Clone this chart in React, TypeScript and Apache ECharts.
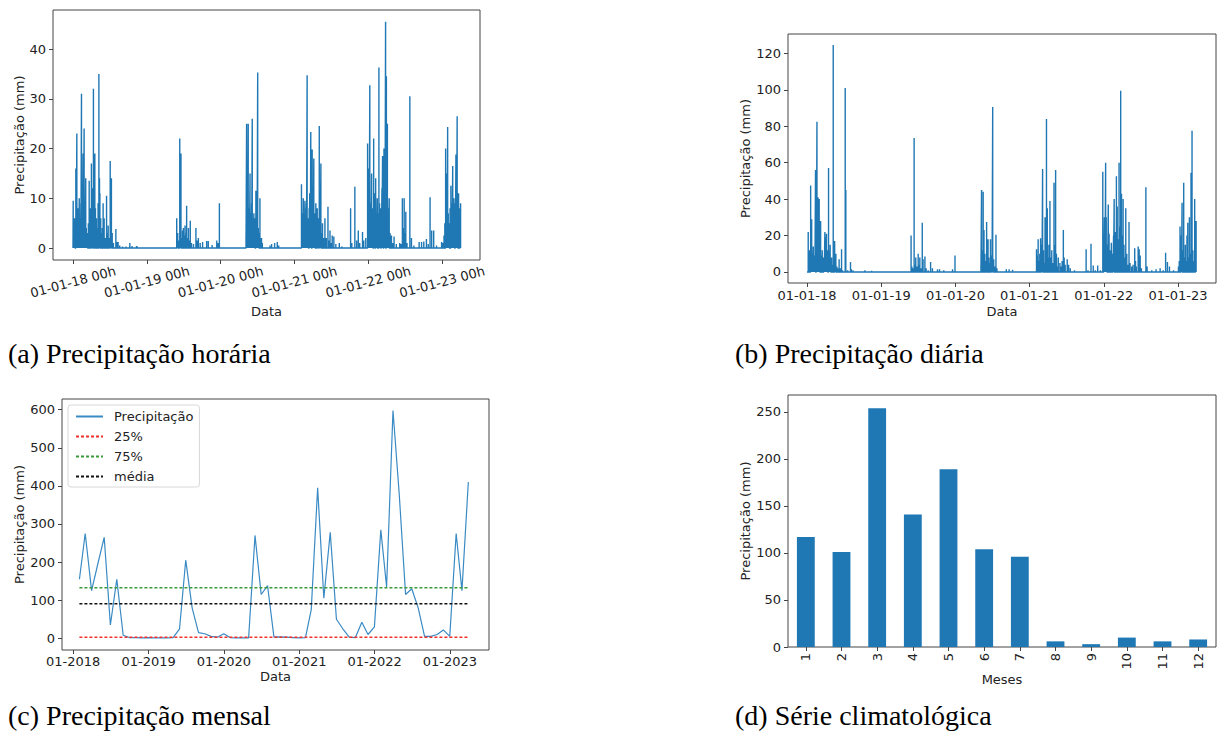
import React, { useEffect, useRef } from "react";
import * as echarts from "echarts";

// ---- data ----------------------------------------------------------------
const yearTicks = [2018, 2019, 2020, 2021, 2022, 2023];

// hourly rainfall readings (mm) — rainy hours only, the rest of the record is 0
const hourlyRain: [string, number][] = [
  ["2018-01-02", 9.5], ["2018-01-05", 4], ["2018-01-08", 6], ["2018-01-11", 3], ["2018-01-15", 16],
  ["2018-01-17", 7], ["2018-01-20", 23], ["2018-01-23", 5], ["2018-01-26", 8], ["2018-01-29", 3],
  ["2018-02-01", 10], ["2018-02-04", 6], ["2018-02-07", 4], ["2018-02-09", 9], ["2018-02-12", 31],
  ["2018-02-15", 12], ["2018-02-17", 7], ["2018-02-20", 19], ["2018-02-22", 10], ["2018-02-25", 24],
  ["2018-02-28", 9], ["2018-03-02", 5], ["2018-03-05", 14], ["2018-03-08", 4], ["2018-03-11", 3],
  ["2018-03-14", 2], ["2018-03-18", 5], ["2018-03-22", 13.5], ["2018-03-25", 6], ["2018-03-29", 8],
  ["2018-04-02", 17], ["2018-04-05", 12], ["2018-04-08", 7], ["2018-04-12", 32], ["2018-04-15", 10],
  ["2018-04-19", 19], ["2018-04-22", 8], ["2018-04-27", 6], ["2018-05-01", 4], ["2018-05-05", 9],
  ["2018-05-09", 35], ["2018-05-12", 14], ["2018-05-14", 11], ["2018-05-18", 6], ["2018-05-22", 3],
  ["2018-05-26", 4], ["2018-05-30", 9], ["2018-06-04", 6], ["2018-06-09", 2], ["2018-06-16", 10.5],
  ["2018-06-20", 3], ["2018-06-24", 4.5], ["2018-06-28", 2], ["2018-07-04", 17.5], ["2018-07-07", 6],
  ["2018-07-10", 14], ["2018-07-14", 3], ["2018-07-20", 1], ["2018-08-01", 3.8], ["2018-08-05", 1.2],
  ["2018-08-12", 1.2], ["2018-08-20", 0.5], ["2018-09-03", 0.3], ["2018-09-20", 0.3], ["2018-10-09", 1],
  ["2018-10-20", 0.4], ["2018-11-11", 0.4], ["2018-11-15", 0.3],
  ["2019-05-29", 6], ["2019-06-01", 2], ["2019-06-03", 3], ["2019-06-07", 1.5], ["2019-06-13", 22],
  ["2019-06-16", 5], ["2019-06-19", 19], ["2019-06-23", 2], ["2019-06-27", 3.5], ["2019-07-01", 4],
  ["2019-07-05", 2.5], ["2019-07-09", 4.5], ["2019-07-13", 3], ["2019-07-17", 8.5], ["2019-07-20", 2],
  ["2019-07-26", 4], ["2019-07-30", 1.5], ["2019-08-04", 5.5], ["2019-08-10", 1], ["2019-08-20", 0.8],
  ["2019-09-01", 4], ["2019-09-06", 1.5], ["2019-09-13", 2], ["2019-09-22", 1], ["2019-10-04", 1.2],
  ["2019-10-24", 1.4], ["2019-11-01", 1.4], ["2019-11-20", 0.6], ["2019-12-13", 1.5], ["2019-12-20", 1],
  ["2019-12-26", 9],
  ["2020-05-06", 3], ["2020-05-09", 25], ["2020-05-12", 10], ["2020-05-14", 6], ["2020-05-17", 25],
  ["2020-05-20", 8], ["2020-05-23", 5], ["2020-05-26", 15], ["2020-05-29", 7], ["2020-06-01", 4],
  ["2020-06-03", 9], ["2020-06-06", 26], ["2020-06-09", 6], ["2020-06-11", 4], ["2020-06-14", 7],
  ["2020-06-17", 6], ["2020-06-20", 3], ["2020-06-24", 11.5], ["2020-06-27", 5], ["2020-06-30", 7],
  ["2020-07-03", 35.3], ["2020-07-06", 4], ["2020-07-09", 3], ["2020-07-14", 10], ["2020-07-17", 2],
  ["2020-07-22", 2], ["2020-07-26", 1], ["2020-09-02", 0.5], ["2020-09-10", 0.8], ["2020-09-25", 1],
  ["2020-10-08", 1.2], ["2020-10-15", 0.5],
  ["2021-02-05", 12.8], ["2021-02-08", 7], ["2021-02-11", 5], ["2021-02-14", 10], ["2021-02-17", 6],
  ["2021-02-19", 4], ["2021-02-22", 9.5], ["2021-02-25", 8], ["2021-02-28", 5], ["2021-03-02", 9],
  ["2021-03-05", 34.7], ["2021-03-08", 6], ["2021-03-11", 4], ["2021-03-15", 8], ["2021-03-18", 11],
  ["2021-03-21", 7], ["2021-03-23", 23.3], ["2021-03-26", 6], ["2021-03-30", 19.8], ["2021-04-02", 9],
  ["2021-04-04", 5], ["2021-04-07", 18], ["2021-04-10", 7], ["2021-04-13", 4], ["2021-04-17", 9],
  ["2021-04-20", 3], ["2021-04-24", 8], ["2021-04-27", 2], ["2021-04-30", 6], ["2021-05-04", 24.5],
  ["2021-05-07", 9], ["2021-05-09", 6], ["2021-05-12", 17], ["2021-05-16", 3], ["2021-05-20", 5],
  ["2021-05-25", 2], ["2021-06-01", 6], ["2021-06-08", 2], ["2021-06-16", 8.3], ["2021-06-20", 1.5],
  ["2021-06-26", 3.5], ["2021-07-01", 1], ["2021-07-07", 2.5], ["2021-07-15", 2.3], ["2021-07-25", 0.8],
  ["2021-08-11", 1], ["2021-08-24", 0.3], ["2021-10-06", 8], ["2021-10-12", 1], ["2021-10-27", 12.3],
  ["2021-11-05", 1.5], ["2021-11-13", 3.5], ["2021-11-20", 1], ["2021-12-04", 3.2], ["2021-12-10", 1.5],
  ["2021-12-20", 2], ["2021-12-29", 21],
  ["2022-01-01", 9], ["2022-01-03", 16], ["2022-01-06", 11], ["2022-01-09", 32.7], ["2022-01-12", 9],
  ["2022-01-15", 6], ["2022-01-18", 15], ["2022-01-21", 8], ["2022-01-24", 5], ["2022-01-28", 22],
  ["2022-01-31", 7], ["2022-02-03", 11], ["2022-02-07", 14], ["2022-02-10", 6], ["2022-02-12", 4],
  ["2022-02-15", 10], ["2022-02-19", 7], ["2022-02-23", 36.3], ["2022-02-26", 9], ["2022-03-01", 5],
  ["2022-03-03", 8], ["2022-03-07", 6], ["2022-03-10", 12], ["2022-03-13", 18.5], ["2022-03-16", 7],
  ["2022-03-20", 20], ["2022-03-23", 15], ["2022-03-25", 9], ["2022-03-28", 45.5], ["2022-04-01", 34.5],
  ["2022-04-03", 12], ["2022-04-06", 25], ["2022-04-09", 8], ["2022-04-12", 5], ["2022-04-15", 10],
  ["2022-04-19", 3], ["2022-04-26", 2.5], ["2022-05-02", 1], ["2022-05-09", 2.3], ["2022-05-20", 0.8],
  ["2022-06-06", 1], ["2022-06-12", 0.8], ["2022-06-19", 10], ["2022-06-23", 4], ["2022-06-28", 10],
  ["2022-07-02", 3], ["2022-07-06", 7.3], ["2022-07-12", 1], ["2022-07-26", 30.5], ["2022-08-03", 2],
  ["2022-08-15", 0.5], ["2022-09-10", 1.2], ["2022-09-22", 1.2], ["2022-10-03", 1.3], ["2022-10-16", 1.8],
  ["2022-10-25", 0.8], ["2022-11-03", 10.2], ["2022-11-11", 3.5], ["2022-11-21", 3.5], ["2022-12-05", 0.5],
  ["2022-12-30", 1.2],
  ["2023-01-05", 1], ["2023-01-11", 2.5], ["2023-01-15", 5], ["2023-01-19", 20], ["2023-01-22", 9],
  ["2023-01-24", 15], ["2023-01-27", 6], ["2023-01-29", 24.3], ["2023-02-01", 7], ["2023-02-03", 4],
  ["2023-02-06", 5], ["2023-02-10", 8], ["2023-02-14", 12.5], ["2023-02-17", 6], ["2023-02-20", 9],
  ["2023-02-23", 16.5], ["2023-02-26", 7], ["2023-03-01", 10], ["2023-03-04", 5], ["2023-03-08", 9],
  ["2023-03-11", 18.8], ["2023-03-14", 8], ["2023-03-17", 26.5], ["2023-03-20", 10], ["2023-03-24", 11],
  ["2023-03-27", 6], ["2023-03-31", 8], ["2023-04-03", 9],
];
const hourlyRange: [string, string] = ["2018-01-01", "2023-04-05"];

// daily rainfall totals (mm) — rainy days only
const dailyRain: [string, number][] = [
  ["2018-01-07", 22], ["2018-01-10", 6], ["2018-01-14", 12], ["2018-01-19", 47.5], ["2018-01-21", 10],
  ["2018-01-24", 29], ["2018-01-27", 8], ["2018-01-29", 5], ["2018-02-01", 14], ["2018-02-04", 6],
  ["2018-02-07", 9], ["2018-02-09", 4], ["2018-02-12", 56], ["2018-02-16", 18], ["2018-02-19", 82.5],
  ["2018-02-21", 25], ["2018-02-24", 41], ["2018-02-27", 15], ["2018-03-02", 40], ["2018-03-05", 20],
  ["2018-03-09", 28], ["2018-03-12", 9], ["2018-03-17", 12], ["2018-03-20", 5], ["2018-03-24", 8],
  ["2018-03-27", 3], ["2018-03-30", 22], ["2018-04-02", 10], ["2018-04-04", 19], ["2018-04-07", 21],
  ["2018-04-10", 12], ["2018-04-13", 6], ["2018-04-17", 57], ["2018-04-20", 10], ["2018-04-22", 8],
  ["2018-04-25", 15], ["2018-04-28", 5], ["2018-05-02", 8], ["2018-05-06", 4], ["2018-05-10", 124.5],
  ["2018-05-13", 9], ["2018-05-17", 17], ["2018-05-20", 6], ["2018-05-23", 10], ["2018-05-28", 3],
  ["2018-06-01", 2], ["2018-06-08", 7], ["2018-06-13", 2], ["2018-06-20", 12.5], ["2018-06-25", 1],
  ["2018-07-08", 101], ["2018-07-11", 45], ["2018-07-20", 1], ["2018-08-03", 5.5], ["2018-08-07", 1.5],
  ["2018-08-15", 1], ["2018-10-13", 1], ["2018-11-15", 0.7],
  ["2019-05-28", 20], ["2019-06-01", 3], ["2019-06-05", 2], ["2019-06-12", 73.5], ["2019-06-16", 4],
  ["2019-06-20", 8], ["2019-06-25", 3], ["2019-07-02", 10], ["2019-07-06", 4], ["2019-07-10", 8],
  ["2019-07-15", 2], ["2019-07-22", 27], ["2019-07-26", 7], ["2019-08-04", 8.5], ["2019-08-10", 2],
  ["2019-08-20", 1], ["2019-09-01", 5.5], ["2019-09-10", 2], ["2019-10-05", 1.5], ["2019-10-15", 1.5],
  ["2019-11-05", 1], ["2019-12-18", 1.5], ["2019-12-30", 9],
  ["2020-05-06", 4], ["2020-05-09", 45], ["2020-05-13", 12], ["2020-05-17", 44], ["2020-05-21", 23],
  ["2020-05-25", 10], ["2020-05-29", 6], ["2020-06-03", 27.5], ["2020-06-07", 14], ["2020-06-10", 18],
  ["2020-06-14", 8], ["2020-06-18", 5], ["2020-06-22", 18], ["2020-06-27", 9], ["2020-06-30", 4],
  ["2020-07-03", 90.5], ["2020-07-08", 7], ["2020-07-13", 3], ["2020-07-19", 20.5], ["2020-07-24", 2],
  ["2020-09-08", 1.5], ["2020-09-22", 1.5], ["2020-10-09", 1.2],
  ["2021-02-04", 12.5], ["2021-02-08", 9], ["2021-02-12", 18], ["2021-02-16", 6], ["2021-02-20", 10],
  ["2021-02-24", 18.5], ["2021-02-28", 8], ["2021-03-03", 15], ["2021-03-06", 56.5], ["2021-03-10", 12],
  ["2021-03-14", 5], ["2021-03-18", 30], ["2021-03-21", 10], ["2021-03-25", 84], ["2021-03-29", 35],
  ["2021-04-02", 8], ["2021-04-06", 15], ["2021-04-11", 39], ["2021-04-15", 8], ["2021-04-20", 12],
  ["2021-04-25", 5], ["2021-05-01", 49], ["2021-05-05", 15], ["2021-05-09", 56], ["2021-05-13", 10],
  ["2021-05-18", 3], ["2021-05-22", 8], ["2021-05-30", 5], ["2021-06-05", 3], ["2021-06-10", 6],
  ["2021-06-16", 23], ["2021-06-20", 8], ["2021-06-25", 4], ["2021-07-05", 7], ["2021-07-12", 4],
  ["2021-07-20", 2], ["2021-08-10", 1], ["2021-10-06", 12.5], ["2021-10-15", 1], ["2021-10-30", 15.5],
  ["2021-11-10", 3.5], ["2021-11-20", 1], ["2021-12-02", 3.5], ["2021-12-15", 1], ["2021-12-27", 55],
  ["2022-01-01", 12], ["2022-01-04", 30], ["2022-01-07", 20], ["2022-01-10", 60], ["2022-01-13", 30],
  ["2022-01-16", 10], ["2022-01-20", 15], ["2022-01-23", 37], ["2022-01-27", 21], ["2022-01-30", 8],
  ["2022-02-03", 12], ["2022-02-07", 16], ["2022-02-11", 10], ["2022-02-15", 6], ["2022-02-18", 20],
  ["2022-02-21", 40], ["2022-02-25", 15], ["2022-02-28", 22], ["2022-03-04", 52.5], ["2022-03-08", 36],
  ["2022-03-12", 18], ["2022-03-17", 60], ["2022-03-21", 25], ["2022-03-25", 99.5], ["2022-03-29", 43],
  ["2022-04-02", 20], ["2022-04-06", 40], ["2022-04-10", 15], ["2022-04-14", 8], ["2022-04-19", 35],
  ["2022-04-24", 10], ["2022-04-29", 4], ["2022-05-05", 27.5], ["2022-05-10", 5], ["2022-05-18", 3],
  ["2022-05-25", 4], ["2022-06-02", 13], ["2022-06-06", 6], ["2022-06-10", 3], ["2022-06-19", 14],
  ["2022-06-24", 12.5], ["2022-06-29", 9], ["2022-07-05", 2], ["2022-07-27", 46.5], ["2022-08-02", 3],
  ["2022-08-25", 1], ["2022-09-15", 1.5], ["2022-10-05", 2], ["2022-10-20", 1], ["2022-11-01", 10.5],
  ["2022-11-10", 5.5], ["2022-11-20", 3], ["2022-12-10", 1],
  ["2023-01-03", 3], ["2023-01-07", 6], ["2023-01-11", 25], ["2023-01-15", 20], ["2023-01-18", 8],
  ["2023-01-21", 38], ["2023-01-25", 12], ["2023-01-29", 49], ["2023-02-02", 8], ["2023-02-06", 15],
  ["2023-02-10", 6], ["2023-02-14", 20], ["2023-02-18", 27], ["2023-02-22", 8], ["2023-02-26", 30],
  ["2023-03-02", 10], ["2023-03-06", 54.5], ["2023-03-11", 77.5], ["2023-03-15", 12], ["2023-03-19", 6],
  ["2023-03-24", 40], ["2023-03-28", 5], ["2023-03-31", 28],
];
const dailyRange: [string, string] = ["2018-01-01", "2023-03-31"];

// monthly totals (mm), Jan 2018 .. Mar 2023, stamped at month end
const monthlyFirstYear = 2018;
const monthlyRain = [
  155, 275, 125, 195, 265, 35, 155, 8, 2, 2, 1, 2,
  1, 1, 1, 2, 25, 205, 80, 15, 12, 5, 3, 12,
  2, 1, 1, 1, 270, 115, 138, 3, 4, 3, 2, 1,
  2, 75, 395, 105, 278, 50, 25, 3, 2, 42, 10, 30,
  285, 135, 598, 380, 115, 130, 80, 5, 5, 10, 22, 5,
  275, 125, 410,
];

// climatological mean per calendar month (mm)
const monthLabels = ["1", "2", "3", "4", "5", "6", "7", "8", "9", "10", "11", "12"];
const climatology = [117, 101, 254, 141, 189, 104, 96, 6, 3, 10, 6, 8];

const captions = [
  "(a) Precipitação horária",
  "(b) Precipitação diária",
  "(c) Precipitação mensal",
  "(d) Série climatológica",
];

// ---- helpers -------------------------------------------------------------
function decimalYear(s: string): number {
  const [y, m, d] = s.split("-").map(Number);
  const t = Date.UTC(y, m - 1, d);
  const a = Date.UTC(y, 0, 1);
  const b = Date.UTC(y + 1, 0, 1);
  return y + (t - a) / (b - a);
}

// vertical stems rising from a zero baseline, as matplotlib draws a sparse record
function stems(readings: [string, number][], range: [string, string]) {
  const pts: number[][] = [[decimalYear(range[0]), 0]];
  for (const [d, v] of readings) {
    const x = decimalYear(d);
    pts.push([x, 0], [x, v], [x, 0]);
  }
  pts.push([decimalYear(range[1]), 0]);
  return pts;
}

function monthEndYear(i: number): number {
  const y = monthlyFirstYear + Math.floor(i / 12);
  const m = i % 12;
  const last = new Date(Date.UTC(y, m + 1, 0)).getUTCDate();
  return decimalYear(`${y}-${m + 1}-${last}`);
}

function quantile(values: number[], q: number): number {
  const s = [...values].sort((a, b) => a - b);
  const pos = (s.length - 1) * q;
  const lo = Math.floor(pos);
  const hi = Math.ceil(pos);
  return s[lo] + (s[hi] - s[lo]) * (pos - lo);
}

const SANS = "'DejaVu Sans', 'Noto Sans', sans-serif";
const SERIF = "'Liberation Serif', 'Times New Roman', serif";
const BLUE = "#1f77b4";
const INK = "#222";
const FRAME = "#444";

const labelStyle = { color: INK, fontSize: 13, fontFamily: SANS };
const nameStyle = { color: INK, fontSize: 13, fontFamily: SANS };
const tickStyle = { show: true, inside: false, length: 4, lineStyle: { color: FRAME, width: 1 } };

function valueY(grid: number, min: number, max: number, ticks: number[], nameGap: number) {
  return {
    type: "value",
    gridIndex: grid,
    min,
    max,
    axisLine: { show: false, onZero: false },
    splitLine: { show: false },
    axisTick: { ...tickStyle, customValues: ticks },
    axisLabel: { ...labelStyle, margin: 7, customValues: ticks },
    name: "Precipitação (mm)",
    nameLocation: "middle",
    nameGap,
    nameTextStyle: nameStyle,
  };
}

function yearX(grid: number, min: number, max: number, fmt: (v: number) => string, label: any, nameGap: number) {
  return {
    type: "value",
    gridIndex: grid,
    min,
    max,
    axisLine: { show: false, onZero: false },
    splitLine: { show: false },
    axisTick: { ...tickStyle, customValues: yearTicks },
    axisLabel: { ...labelStyle, customValues: yearTicks, formatter: fmt, ...label },
    name: "Data",
    nameLocation: "middle",
    nameGap,
    nameTextStyle: nameStyle,
  };
}

export default function App() {
  const ref = useRef<HTMLDivElement>(null);

  useEffect(() => {
    if (!ref.current) return;
    const chart = echarts.init(ref.current, undefined, { renderer: "svg" });

    const monthly = monthlyRain.map((v, i) => [monthEndYear(i), v]);
    const x0 = monthly[0][0];
    const x1 = monthly[monthly.length - 1][0];
    const q25 = quantile(monthlyRain, 0.25);
    const q75 = quantile(monthlyRain, 0.75);
    const mean = monthlyRain.reduce((a, b) => a + b, 0) / monthlyRain.length;

    const frame = { show: true, borderColor: FRAME, borderWidth: 1, backgroundColor: "#fff" };
    const yy = (v: number) => String(v).slice(2);

    chart.setOption({
      animation: false,
      backgroundColor: "#fff",
      grid: [
        { ...frame, left: 53, top: 10, width: 427, height: 250 },
        { ...frame, left: 788, top: 34, width: 428, height: 249 },
        { ...frame, left: 62, top: 399, width: 427, height: 251 },
        { ...frame, left: 788, top: 395, width: 428, height: 252 },
      ],
      xAxis: [
        yearX(0, 2017.729, 2023.515, (v) => `01-01-${yy(v)} 00h`,
          { rotate: 15, align: "center", verticalAlign: "middle", margin: 22 }, 45),
        yearX(1, 2017.744, 2023.512, (v) => `01-01-${yy(v)}`, { margin: 6 }, 22),
        yearX(2, 2017.851, 2023.518, (v) => `01-${v}`, { margin: 5 }, 20),
        {
          type: "category",
          gridIndex: 3,
          data: monthLabels,
          axisLine: { show: false, onZero: false },
          splitLine: { show: false },
          axisTick: { ...tickStyle, alignWithLabel: true },
          axisLabel: { ...labelStyle, rotate: 90, margin: 6, interval: 0 },
          name: "Meses",
          nameLocation: "middle",
          nameGap: 24,
          nameTextStyle: nameStyle,
        },
      ],
      yAxis: [
        valueY(0, -2.41, 47.84, [0, 10, 20, 30, 40], 27),
        valueY(1, -6.04, 130.6, [0, 20, 40, 60, 80, 100, 120], 35),
        valueY(2, -30.7, 628, [0, 100, 200, 300, 400, 500, 600], 36),
        valueY(3, 0, 268, [0, 50, 100, 150, 200, 250], 35),
      ],
      legend: {
        data: ["Precipitação", "25%", "75%", "média"],
        orient: "vertical",
        left: 68,
        top: 405,
        itemWidth: 27,
        itemHeight: 14,
        itemGap: 7,
        padding: [5, 6, 4, 7],
        backgroundColor: "rgba(255,255,255,0.85)",
        borderColor: "#d8d8d8",
        borderWidth: 1,
        borderRadius: 3,
        itemStyle: { opacity: 0 },
        textStyle: { ...labelStyle, padding: [0, 0, 0, 6] },
      },
      series: [
        {
          type: "line",
          xAxisIndex: 0,
          yAxisIndex: 0,
          data: stems(hourlyRain, hourlyRange),
          symbol: "none",
          lineStyle: { color: BLUE, width: 1.4 },
          silent: true,
        },
        {
          type: "line",
          xAxisIndex: 1,
          yAxisIndex: 1,
          data: stems(dailyRain, dailyRange),
          symbol: "none",
          lineStyle: { color: BLUE, width: 1.4 },
          silent: true,
        },
        {
          name: "Precipitação",
          type: "line",
          xAxisIndex: 2,
          yAxisIndex: 2,
          data: monthly,
          symbol: "none",
          itemStyle: { color: "#3a8ac4" },
          lineStyle: { color: "#3a8ac4", width: 1.2 },
        },
        {
          name: "25%",
          type: "line",
          xAxisIndex: 2,
          yAxisIndex: 2,
          data: [[x0, q25], [x1, q25]],
          symbol: "none",
          itemStyle: { color: "#f0302c" },
          lineStyle: { color: "#f0302c", width: 1.5, type: [3, 2] },
        },
        {
          name: "75%",
          type: "line",
          xAxisIndex: 2,
          yAxisIndex: 2,
          data: [[x0, q75], [x1, q75]],
          symbol: "none",
          itemStyle: { color: "#3a9a3a" },
          lineStyle: { color: "#3a9a3a", width: 1.5, type: [3, 2] },
        },
        {
          name: "média",
          type: "line",
          xAxisIndex: 2,
          yAxisIndex: 2,
          data: [[x0, mean], [x1, mean]],
          symbol: "none",
          itemStyle: { color: "#111" },
          lineStyle: { color: "#111", width: 1.5, type: [3, 2] },
        },
        {
          type: "bar",
          xAxisIndex: 3,
          yAxisIndex: 3,
          data: climatology,
          barWidth: "50%",
          itemStyle: { color: BLUE },
        },
      ],
      graphic: [
        { pos: [8, 353], i: 0 },
        { pos: [735, 353], i: 1 },
        { pos: [8, 715], i: 2 },
        { pos: [735, 715], i: 3 },
      ].map(({ pos, i }) => ({
        type: "text",
        x: pos[0],
        y: pos[1],
        style: {
          text: captions[i],
          fontFamily: SERIF,
          fontSize: 28,
          fill: "#000",
          verticalAlign: "middle",
        },
      })),
    });

    return () => chart.dispose();
  }, []);

  return (
    <div
      ref={ref}
      style={{ position: "absolute", left: 0, top: 0, width: 1217, height: 733, background: "#fff" }}
    />
  );
}
